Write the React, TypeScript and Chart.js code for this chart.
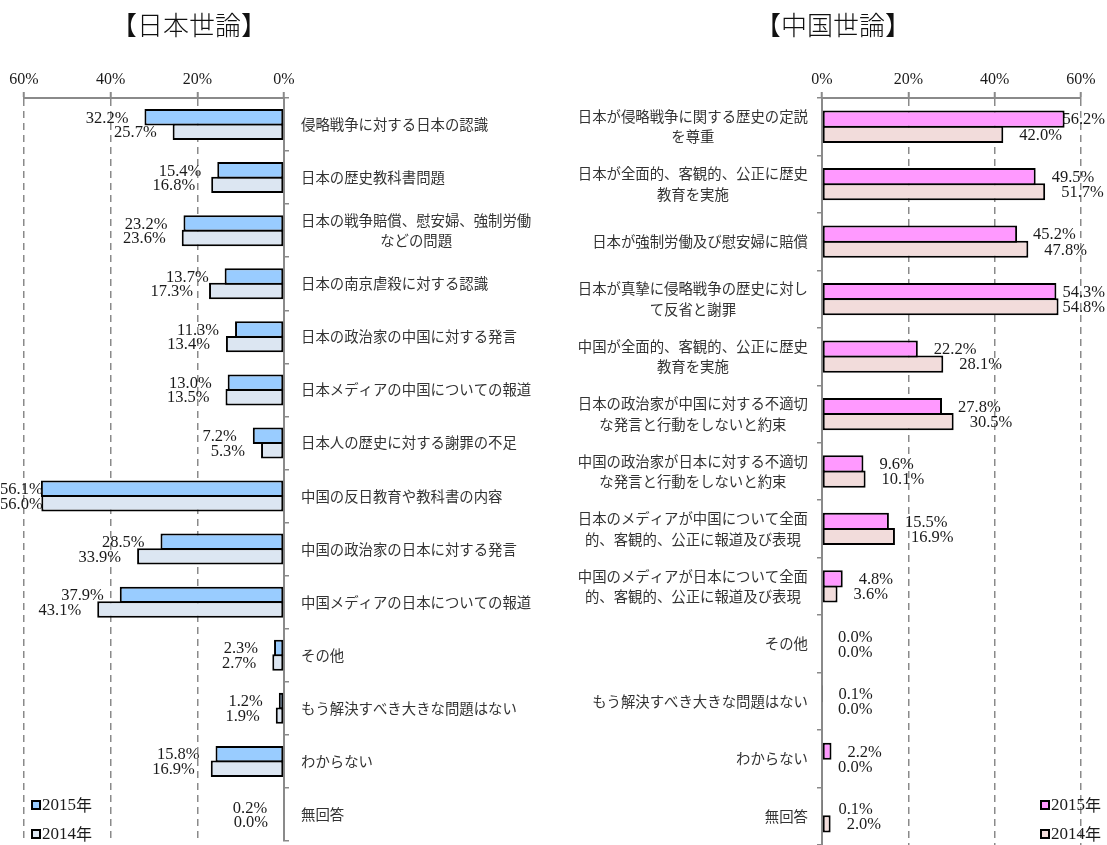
import React, { useEffect, useRef } from 'react';
import { Chart, registerables } from 'chart.js';

Chart.register(...registerables);

// ---------- Data ----------
const jpCategories = [
  '侵略戦争に対する日本の認識',
  '日本の歴史教科書問題',
  '日本の戦争賠償、慰安婦、強制労働\nなどの問題',
  '日本の南京虐殺に対する認識',
  '日本の政治家の中国に対する発言',
  '日本メディアの中国についての報道',
  '日本人の歴史に対する謝罪の不足',
  '中国の反日教育や教科書の内容',
  '中国の政治家の日本に対する発言',
  '中国メディアの日本についての報道',
  'その他',
  'もう解決すべき大きな問題はない',
  'わからない',
  '無回答',
];
const jp2015 = [32.2, 15.4, 23.2, 13.7, 11.3, 13.0, 7.2, 56.1, 28.5, 37.9, 2.3, 1.2, 15.8, 0.2];
const jp2014 = [25.7, 16.8, 23.6, 17.3, 13.4, 13.5, 5.3, 56.0, 33.9, 43.1, 2.7, 1.9, 16.9, 0.0];

const cnCategories = [
  '日本が侵略戦争に関する歴史の定説\nを尊重',
  '日本が全面的、客観的、公正に歴史\n教育を実施',
  '日本が強制労働及び慰安婦に賠償',
  '日本が真摯に侵略戦争の歴史に対し\nて反省と謝罪',
  '中国が全面的、客観的、公正に歴史\n教育を実施',
  '日本の政治家が中国に対する不適切\nな発言と行動をしないと約束',
  '中国の政治家が日本に対する不適切\nな発言と行動をしないと約束',
  '日本のメディアが中国について全面\n的、客観的、公正に報道及び表現',
  '中国のメディアが日本について全面\n的、客観的、公正に報道及び表現',
  'その他',
  'もう解決すべき大きな問題はない',
  'わからない',
  '無回答',
];
const cn2015 = [56.2, 49.5, 45.2, 54.3, 22.2, 27.8, 9.6, 15.5, 4.8, 0.0, 0.1, 2.2, 0.1];
const cn2014 = [42.0, 51.7, 47.8, 54.8, 28.1, 30.5, 10.1, 16.9, 3.6, 0.0, 0.0, 0.0, 2.0];

const seriesNames = ['2015年', '2014年'];
const axisMin = 0;
const axisMax = 60;
const axisStep = 20;

const jpColors = ['#99CCFF', '#DCE6F2'];
const cnColors = ['#FF99FF', '#F2DCDB'];

const SERIF = '"Liberation Serif", "Times New Roman", serif';
const CJK = '"Noto Sans CJK JP", "Noto Sans", sans-serif';
const GRID = '#8a8a8a';

// ---------- Plugins ----------
const valueLabelsPlugin = {
  id: 'valueLabels',
  afterDatasetsDraw(chart: any, _args: any, opts: any) {
    const ctx = chart.ctx;
    ctx.save();
    ctx.font = `16.5px ${SERIF}`;
    ctx.fillStyle = '#1a1a1a';
    ctx.textBaseline = 'middle';
    ctx.textAlign = 'left';
    chart.data.datasets.forEach((ds: any, di: number) => {
      const meta = chart.getDatasetMeta(di);
      meta.data.forEach((el: any, i: number) => {
        const text = Number(ds.data[i]).toFixed(1) + '%';
        const w = ctx.measureText(text).width;
        let x: number;
        if (opts.side === 'left') {
          x = el.x - 16 - w;
          if (x < 0) x = 0;
        } else {
          x = el.x + 16;
          if (x + w > chart.width - 2) x = chart.width - 2 - w;
        }
        ctx.fillText(text, x, el.y + 1);
      });
    });
    ctx.restore();
  },
};

const categoryLabelsPlugin = {
  id: 'categoryLabels',
  afterDraw(chart: any, _args: any, opts: any) {
    const ctx = chart.ctx;
    const ys = chart.scales.y;
    const area = chart.chartArea;
    ctx.save();
    ctx.font = `14.4px ${CJK}`;
    ctx.fillStyle = '#333333';
    ctx.textBaseline = 'middle';
    ctx.textAlign = 'center';
    const lh = 20.5;
    (chart.data.labels as string[]).forEach((lab, i) => {
      const lines = String(lab).split('\n');
      const yc = ys.getPixelForValue(i);
      const W = Math.max(...lines.map((l) => ctx.measureText(l).width));
      const cx = opts.side === 'left' ? area.right + 17 + W / 2 : area.left - 14 - W / 2;
      lines.forEach((ln, k) => {
        const y = yc + (k - (lines.length - 1) / 2) * lh;
        ctx.fillText(ln, cx, y);
      });
    });
    ctx.restore();
  },
};

const legendPlugin = {
  id: 'customLegend',
  afterDraw(chart: any, _args: any, opts: any) {
    const ctx = chart.ctx;
    ctx.save();
    ctx.textBaseline = 'middle';
    ctx.textAlign = 'left';
    chart.data.datasets.forEach((ds: any, di: number) => {
      const x = opts.x;
      const y = opts.y + di * 29;
      ctx.fillStyle = '#000';
      ctx.fillRect(x, y - 5, 10, 10);
      ctx.fillStyle = ds.backgroundColor;
      ctx.fillRect(x + 2, y - 3, 6, 6);
      ctx.fillStyle = '#1a1a1a';
      ctx.font = `17px ${SERIF}`;
      const num = ds.label.replace('年', '');
      ctx.fillText(num, x + 11, y + 1);
      const nw = ctx.measureText(num).width;
      ctx.font = `16px ${CJK}`;
      ctx.fillText('年', x + 11 + nw, y);
    });
    ctx.restore();
  },
};

type PanelProps = {
  categories: string[];
  v2015: number[];
  v2014: number[];
  colors: string[];
  side: 'left' | 'right';
  left: number;
  width: number;
  height: number;
};

function BarPanel(props: PanelProps) {
  const ref = useRef<HTMLCanvasElement | null>(null);
  useEffect(() => {
    if (!ref.current) return;
    const isLeft = props.side === 'left';
    const catPct = isLeft ? 0.548 : 0.528;
    const datasets = [props.v2015, props.v2014].map((vals, k) => ({
      label: seriesNames[k],
      data: vals,
      backgroundColor: props.colors[k],
      borderColor: '#000000',
      borderWidth: 2,
      borderSkipped: false,
      categoryPercentage: catPct,
      barPercentage: 1.13,
    }));
    const chart = new Chart(ref.current, {
      type: 'bar',
      data: { labels: props.categories, datasets },
      plugins: [valueLabelsPlugin, categoryLabelsPlugin, legendPlugin],
      options: {
        indexAxis: 'y',
        responsive: false,
        animation: false,
        layout: {
          padding: isLeft
            ? { left: 24, right: 0, top: 0, bottom: 4 }
            : { left: 0, right: 26, top: 0, bottom: 0 },
        },
        scales: {
          x: {
            type: 'linear',
            position: 'top',
            reverse: isLeft,
            min: axisMin,
            max: axisMax,
            ticks: {
              stepSize: axisStep,
              callback: (v: any) => v + '%',
              font: { family: SERIF, size: 16 },
              color: '#1a1a1a',
              padding: 3,
              maxRotation: 0,
            },
            grid: {
              color: GRID,
              lineWidth: 1.5,
              tickLength: 6,
              tickColor: GRID,
              tickWidth: 2,
            },
            border: { display: true, color: GRID, width: 2, dash: [7, 5] },
            afterFit: (s: any) => {
              s.height = 98;
            },
          },
          y: {
            position: isLeft ? 'right' : 'left',
            ticks: { display: false },
            grid: {
              offset: true,
              drawOnChartArea: false,
              tickLength: 5,
              color: GRID,
              lineWidth: 1.5,
            },
            border: { display: true, color: GRID, width: 2 },
            afterFit: (s: any) => {
              s.width = isLeft ? 276 : 262;
            },
          },
        },
        plugins: {
          legend: { display: false },
          tooltip: { enabled: false },
          title: { display: false },
          valueLabels: { side: props.side },
          categoryLabels: { side: props.side },
          customLegend: isLeft ? { x: 31, y: 805 } : { x: 480, y: 805 },
        } as any,
      } as any,
    });
    return () => chart.destroy();
  }, []);
  return (
    <canvas
      ref={ref}
      width={props.width}
      height={props.height}
      style={{ position: 'absolute', left: props.left, top: 0, width: props.width, height: props.height }}
    />
  );
}

export default function App() {
  const titleStyle = (cx: number): React.CSSProperties => ({
    position: 'absolute',
    left: cx - 120,
    width: 240,
    top: 8,
    height: 32,
    lineHeight: '32px',
    textAlign: 'center',
    fontFamily: CJK,
    fontSize: 26,
    fontWeight: 300,
    color: '#111',
  });
  return (
    <div style={{ position: 'absolute', left: 0, top: 0, width: 1107, height: 845, background: '#fff', overflow: 'hidden' }}>
      <BarPanel
        categories={jpCategories}
        v2015={jp2015}
        v2014={jp2014}
        colors={jpColors}
        side="left"
        left={0}
        width={560}
        height={845}
      />
      <BarPanel
        categories={cnCategories}
        v2015={cn2015}
        v2014={cn2014}
        colors={cnColors}
        side="right"
        left={560}
        width={547}
        height={845}
      />
      <div style={titleStyle(189)}>【日本世論】</div>
      <div style={titleStyle(833)}>【中国世論】</div>
    </div>
  );
}
